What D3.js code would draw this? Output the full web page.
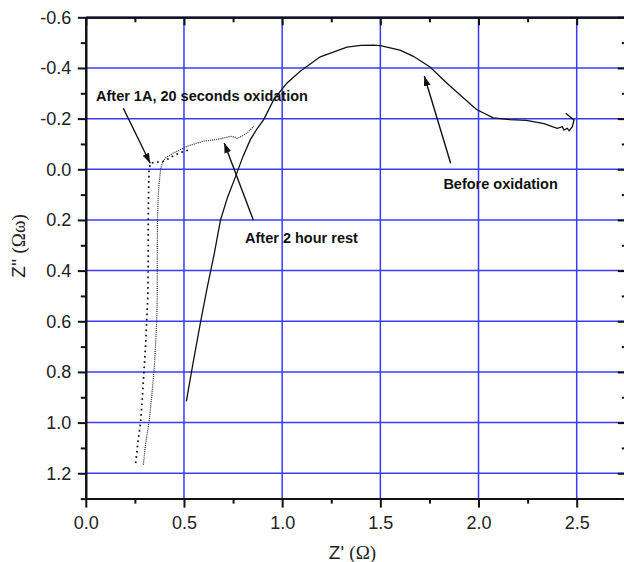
<!DOCTYPE html>
<html>
<head>
<meta charset="utf-8">
<script src="https://cdn.jsdelivr.net/npm/d3@7"></script>
<style>
  body { margin: 0; background: #fff; }
  text { font-family: Arial, "Liberation Sans", sans-serif; fill: #222; }
  .tick text { font-size: 18px; }
  .note { font-size: 14.5px; font-weight: bold; fill: #111; }
</style>
</head>
<body>
<svg id="viz"></svg>
<script>
// ----------------------------------------------------------------------------------------------------------------
// DATA  (Z' , Z'')

var beforeOxidation = [
  [0.512, 0.916], [0.545, 0.77], [0.585, 0.60], [0.62, 0.46], [0.655, 0.33], [0.686, 0.20],
  [0.722, 0.11], [0.762, 0.03], [0.80, -0.05], [0.838, -0.117], [0.872, -0.16], [0.906, -0.196],
  [0.957, -0.275], [1.025, -0.341], [1.092, -0.387], [1.194, -0.444], [1.33, -0.482], [1.40, -0.489],
  [1.465, -0.490], [1.50, -0.488], [1.60, -0.470], [1.668, -0.446], [1.753, -0.404], [1.838, -0.341],
  [1.922, -0.282], [1.99, -0.236], [2.075, -0.203], [2.16, -0.196], [2.244, -0.193], [2.334, -0.180],
  [2.376, -0.168], [2.401, -0.162], [2.427, -0.168], [2.435, -0.155], [2.452, -0.162], [2.461, -0.152],
  [2.478, -0.168], [2.486, -0.195], [2.461, -0.210], [2.444, -0.221]
];

var afterOxidation = [
  [0.254, 1.16], [0.265, 1.08], [0.279, 1.0], [0.288, 0.9], [0.296, 0.8], [0.304, 0.7], [0.31, 0.6],
  [0.316, 0.5], [0.318, 0.35], [0.318, 0.2], [0.320, 0.08], [0.322, 0.0], [0.33, -0.025], [0.36, -0.028],
  [0.39, -0.03], [0.42, -0.042], [0.45, -0.055], [0.49, -0.068], [0.52, -0.075]
];

var afterRest = [
  [0.293, 1.166], [0.305, 1.08], [0.322, 1.0], [0.335, 0.9], [0.347, 0.8], [0.355, 0.7], [0.361, 0.6],
  [0.364, 0.5], [0.364, 0.35], [0.365, 0.2], [0.368, 0.12], [0.372, 0.067], [0.381, 0.0], [0.39, -0.026],
  [0.406, -0.045], [0.449, -0.065], [0.517, -0.091], [0.56, -0.102], [0.601, -0.111], [0.65, -0.116],
  [0.686, -0.12], [0.737, -0.13], [0.755, -0.128], [0.771, -0.122], [0.80, -0.133], [0.822, -0.144],
  [0.855, -0.170]
];

var xTicks = [0, 0.5, 1.0, 1.5, 2.0, 2.5];
var xMinor = [0.25, 0.75, 1.25, 1.75, 2.25, 2.75];
var yTicks = [-0.6, -0.4, -0.2, 0.0, 0.2, 0.4, 0.6, 0.8, 1.0, 1.2];
var yMinor = [-0.5, -0.3, -0.1, 0.1, 0.3, 0.5, 0.7, 0.9, 1.1, 1.3];

// label position, arrow start, arrow tip
var notes = [
  {"text": "After 1A, 20 seconds oxidation", "x": 0.052, "y": -0.270, "x1": 0.191, "y1": -0.241, "x2": 0.328, "y2": -0.024},
  {"text": "After 2 hour rest", "x": 0.811, "y": 0.290, "x1": 0.853, "y1": 0.200, "x2": 0.705, "y2": -0.104},
  {"text": "Before oxidation", "x": 1.821, "y": 0.078, "x1": 1.858, "y1": -0.024, "x2": 1.724, "y2": -0.368}
];

// ----------------------------------------------------------------------------------------------------------------
// INITIAL SETUP

var w = 624;
var h = 562;
var viz = d3.select("#viz").attr("width", w).attr("height", h);

var x = d3.scaleLinear().domain([0, 2.75]).range([85.8, 625.8]);
var y = d3.scaleLinear().domain([-0.6, 1.3]).range([17.3, 498.6]);

// plain hyphen for negatives, like the original
var fmt = function(d) { return d.toFixed(1); };

viz.append("defs").append("marker")
  .attr("id", "head")
  .attr("markerUnits", "userSpaceOnUse")
  .attr("markerWidth", 11)
  .attr("markerHeight", 7)
  .attr("refX", 10)
  .attr("refY", 3.5)
  .attr("orient", "auto")
  .append("path")
  .attr("d", "M0,0 L10,3.5 L0,7 z")
  .attr("fill", "#111");

// ----------------------------------------------------------------------------------------------------------------
// GRID

viz.append("g").selectAll("line")
  .data(xTicks)
  .enter()
  .append("line")
  .attr("x1", function(d) { return x(d); })
  .attr("x2", function(d) { return x(d); })
  .attr("y1", y(-0.6))
  .attr("y2", y(1.3))
  .attr("stroke", "#3b3bff")
  .attr("stroke-width", 1.5);

viz.append("g").selectAll("line")
  .data(yTicks)
  .enter()
  .append("line")
  .attr("x1", x(0))
  .attr("x2", x(2.75))
  .attr("y1", function(d) { return y(d); })
  .attr("y2", function(d) { return y(d); })
  .attr("stroke", "#3b3bff")
  .attr("stroke-width", 1.5);

// ----------------------------------------------------------------------------------------------------------------
// CURVES

var line = d3.line()
  .x(function(d) { return x(d[0]); })
  .y(function(d) { return y(d[1]); });

viz.append("path")
  .attr("d", line(beforeOxidation))
  .attr("fill", "none")
  .attr("stroke", "#111")
  .attr("stroke-width", 1.3);

viz.append("path")
  .attr("d", line(afterOxidation))
  .attr("fill", "none")
  .attr("stroke", "#111")
  .attr("stroke-width", 1.7)
  .attr("stroke-dasharray", "1.7,3.6");

viz.append("path")
  .attr("d", line(afterRest))
  .attr("fill", "none")
  .attr("stroke", "#222")
  .attr("stroke-width", 1.2)
  .attr("stroke-dasharray", "1,1.1");

// ----------------------------------------------------------------------------------------------------------------
// AXES

function styleAxis(g) {
  g.selectAll("path, line").attr("stroke", "#111").attr("stroke-width", 2);
  g.selectAll("text").attr("fill", "#222");
}

// bottom
viz.append("g").attr("transform", "translate(0," + y(1.3) + ")")
  .call(d3.axisBottom(x).tickValues(xMinor).tickSize(5).tickSizeOuter(0).tickFormat(""))
  .call(styleAxis);
viz.append("g").attr("transform", "translate(0," + y(1.3) + ")")
  .call(d3.axisBottom(x).tickValues(xTicks).tickSize(9).tickSizeOuter(0).tickPadding(8.5).tickFormat(fmt))
  .call(styleAxis);

// top, ticks pointing in
viz.append("g").attr("transform", "translate(0," + y(-0.6) + ")")
  .call(d3.axisTop(x).tickValues(xMinor).tickSize(-5).tickSizeOuter(0).tickFormat(""))
  .call(styleAxis);
viz.append("g").attr("transform", "translate(0," + y(-0.6) + ")")
  .call(d3.axisTop(x).tickValues(xTicks).tickSize(-8).tickSizeOuter(0).tickFormat(""))
  .call(styleAxis);

// left
viz.append("g").attr("transform", "translate(" + x(0) + ",0)")
  .call(d3.axisLeft(y).tickValues(yMinor).tickSize(5).tickSizeOuter(0).tickFormat(""))
  .call(styleAxis);
viz.append("g").attr("transform", "translate(" + x(0) + ",0)")
  .call(d3.axisLeft(y).tickValues(yTicks).tickSize(8).tickSizeOuter(0).tickPadding(6.5).tickFormat(fmt))
  .call(styleAxis);

// right, sits just past the picture edge, ticks pointing in
viz.append("g").attr("transform", "translate(" + x(2.75) + ",0)")
  .call(d3.axisRight(y).tickValues(yMinor).tickSize(-4).tickSizeOuter(0).tickFormat(""))
  .call(styleAxis);
viz.append("g").attr("transform", "translate(" + x(2.75) + ",0)")
  .call(d3.axisRight(y).tickValues(yTicks).tickSize(-8).tickSizeOuter(0).tickFormat(""))
  .call(styleAxis);

// axis titles
var xTitle = viz.append("text")
  .attr("x", 352.5)
  .attr("y", 559)
  .attr("text-anchor", "middle")
  .style("font-size", "19px");
xTitle.append("tspan").text("Z' ");
xTitle.append("tspan").style("font-family", "'Liberation Serif', 'Times New Roman', serif").text("(\u03a9)");

var yTitle = viz.append("text")
  .attr("transform", "translate(25,246) rotate(-90)")
  .attr("text-anchor", "middle")
  .style("font-size", "19px");
yTitle.append("tspan").text("Z'' ");
yTitle.append("tspan").style("font-family", "'Liberation Serif', 'Times New Roman', serif").text("(\u03a9\u03c9)");

// ----------------------------------------------------------------------------------------------------------------
// ANNOTATIONS

viz.append("g").selectAll("line")
  .data(notes)
  .enter()
  .append("line")
  .attr("x1", function(d) { return x(d.x1); })
  .attr("y1", function(d) { return y(d.y1); })
  .attr("x2", function(d) { return x(d.x2); })
  .attr("y2", function(d) { return y(d.y2); })
  .attr("stroke", "#111")
  .attr("stroke-width", 1.4)
  .attr("marker-end", "url(#head)");

viz.append("g").selectAll("text")
  .data(notes)
  .enter()
  .append("text")
  .attr("class", "note")
  .attr("x", function(d) { return x(d.x); })
  .attr("y", function(d) { return y(d.y); })
  .text(function(d) { return d.text; });
</script>
</body>
</html>
